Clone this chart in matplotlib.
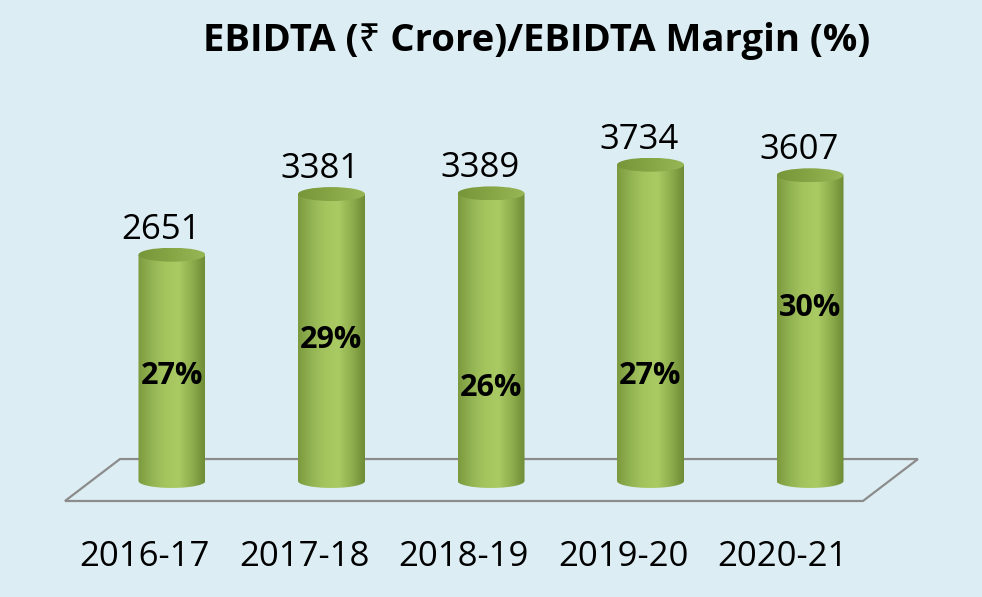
import numpy as np
import matplotlib.pyplot as plt
import matplotlib.transforms as mtransforms
from matplotlib.colors import LinearSegmentedColormap
from matplotlib.patches import Ellipse, Polygon

plt.rcParams['font.family'] = ['Open Sans', 'Noto Sans', 'DejaVu Sans']

# data
years = ['2016-17', '2017-18', '2018-19', '2019-20', '2020-21']
ebidta = [2651, 3381, 3389, 3734, 3607]          # Rs crore
margin = [27.0, 28.8, 26.4, 27.0, 30.4]          # % (label positions)

bg = '#DCEDF3'
body_cmap = LinearSegmentedColormap.from_list(
    'body', ['#7B9A3E', '#92B352', '#A4C55E', '#AACB64', '#8FAF4E', '#6E8C35'])
top_cmap = LinearSegmentedColormap.from_list(
    'top', ['#779639', '#86A545', '#97B757'])

fig = plt.figure(figsize=(9.82, 5.97), dpi=100, facecolor=bg)
ax = fig.add_axes([0.0452, 0.1487, 0.9096, 0.7516])
ax.set_facecolor('none')
ax.axis('off')

bar_w = 0.42
cap_h = 168
base = -72
grad = np.linspace(0, 1, 256).reshape(1, -1)

# the floor of the 3d plot
floor = Polygon([(-0.671, -313), (4.332, -313), (4.677, 192), (-0.326, 192)],
                closed=True, facecolor='none', edgecolor='#8C8C8C', lw=1.6, zorder=1)
ax.add_patch(floor)

for i, v in enumerate(ebidta):
    x0, x1 = i - bar_w / 2, i + bar_w / 2
    t = np.linspace(0, -np.pi, 50)
    arc = np.column_stack([i + bar_w / 2 * np.cos(t), base + cap_h / 2 * np.sin(t)])
    verts = np.vstack([[x0, v], [x1, v], arc])
    body = Polygon(verts, closed=True, facecolor='none', edgecolor='none')
    ax.add_patch(body)
    im = ax.imshow(grad, cmap=body_cmap, extent=[x0, x1, base - cap_h, v],
                   aspect='auto', zorder=2)
    im.set_clip_path(body)

    cap = Ellipse((i, v), bar_w, cap_h, facecolor='none', edgecolor='none')
    ax.add_patch(cap)
    im2 = ax.imshow(grad, cmap=top_cmap, extent=[x0, x1, v - cap_h / 2, v + cap_h / 2],
                    aspect='auto', zorder=3)
    im2.set_clip_path(cap)

    ax.annotate(f'{v}', (i, v), xytext=(-8, 11.5), textcoords='offset points',
                ha='center', va='baseline', fontsize=25, color='black')

ax.set_xlim(-0.8, 4.8)
ax.set_ylim(-400, 5000)

# category labels sit under the front edge of the floor
trans = mtransforms.blended_transform_factory(ax.transData, fig.transFigure)
for i, yr in enumerate(years):
    ax.text(i - 0.17, 0.052, yr, transform=trans, ha='center', va='baseline',
            fontsize=25, color='black')

# margin labels on a hidden second axis
ax2 = ax.twinx()
ax2.axis('off')
ax2.set_ylim(20.365, 42.8)
for i, m in enumerate(margin):
    ax2.text(i, m, f'{m:.0f}%', ha='center', va='center', fontsize=22,
             fontweight='bold', color='black', zorder=5)

fig.text(0.546, 0.9146, 'EBIDTA (₹ Crore)/EBIDTA Margin (%)', ha='center',
         va='baseline', fontsize=27.5, fontweight='bold')

fig.savefig('out.png', dpi=100, facecolor=bg)
